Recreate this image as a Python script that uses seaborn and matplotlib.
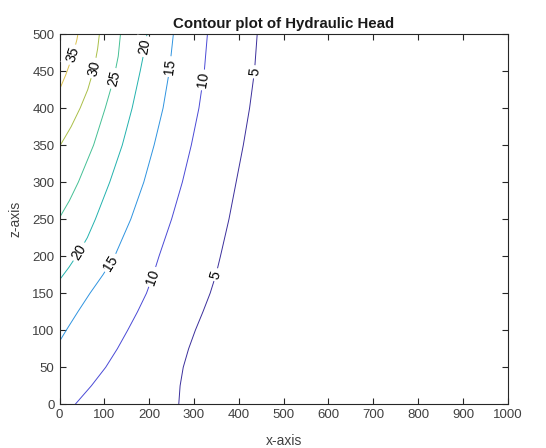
import numpy as np
import pandas as pd
import seaborn as sns
import matplotlib
matplotlib.use("Agg")
import matplotlib.pyplot as plt

# Contour levels of hydraulic head and their line colours (parula-like)
levels = [5, 10, 15, 20, 25, 30, 35]
level_colors = ["#3b2f9c", "#4a4ad6", "#2f94e0", "#23b2ae", "#45c095", "#aabf48", "#dcc24f"]

# Traced iso-head lines: x positions at given depths z
z_5 = [0, 25, 50, 75, 100, 125, 150, 175, 200, 250, 300, 350, 400, 450, 500]
x_5 = [266, 269, 276, 288, 303, 320, 336, 349, 359, 378, 394, 410, 424, 435, 441]

z_10 = [0, 25, 50, 75, 100, 125, 150, 175, 200, 250, 300, 350, 400, 450, 500]
x_10 = [35, 71, 103, 129, 152, 174, 194, 209, 222, 250, 274, 294, 311, 323, 330]

z_15 = [85, 100, 125, 150, 175, 200, 250, 300, 350, 400, 450, 500]
x_15 = [0, 15, 41, 68, 97, 123, 159, 188, 211, 231, 245, 254]

z_20 = [168, 185, 206, 225, 250, 300, 350, 400, 450, 483, 500]
x_20 = [0, 21, 44, 62, 80, 112, 140, 162, 180, 191, 195]

z_25 = [252, 275, 300, 350, 400, 440, 470, 500]
x_25 = [0, 22, 42, 76, 102, 121, 131, 136]

z_30 = [348, 375, 400, 425, 454, 480, 500]
x_30 = [0, 26, 46, 63, 77, 85, 89]

z_35 = [425, 445, 472, 493, 500]
x_35 = [0, 14, 30, 39, 41]

# Depth at which each level's inline label sits
label_z = {5: [175, 449], 10: [172, 438], 15: [191, 456], 20: [206, 483],
           25: [440], 30: [454], 35: [472]}

x_ticks = list(range(0, 1001, 100))
z_ticks = list(range(0, 501, 50))

lines = {5: (x_5, z_5), 10: (x_10, z_10), 15: (x_15, z_15), 20: (x_20, z_20),
         25: (x_25, z_25), 30: (x_30, z_30), 35: (x_35, z_35)}

frames = []
for lev in levels:
    xs, zs = lines[lev]
    frames.append(pd.DataFrame({"x": xs, "z": zs, "level": lev}))
df = pd.concat(frames, ignore_index=True)

sns.set_theme(style="white")
plt.rcParams["font.family"] = ["Liberation Sans", "DejaVu Sans"]

fig = plt.figure(figsize=(5.46, 4.48), dpi=100)
ax = fig.add_axes([0.109, 0.0975, 0.821, 0.8265])

sns.lineplot(data=df, x="x", y="z", hue="level", palette=dict(zip(levels, level_colors)),
             sort=False, estimator=None, legend=False, linewidth=0.7, ax=ax)

ax.set_xlim(0, 1000)
ax.set_ylim(0, 500)
ax.set_xticks(x_ticks)
ax.set_yticks(z_ticks)

fig.canvas.draw()
# inline labels, rotated along each line
for lev in levels:
    xs, zs = lines[lev]
    for zl in label_z[lev]:
        xl = np.interp(zl, zs, xs)
        p0 = ax.transData.transform((np.interp(zl - 10, zs, xs), zl - 10))
        p1 = ax.transData.transform((np.interp(zl + 10, zs, xs), zl + 10))
        ang = np.degrees(np.arctan2(p1[1] - p0[1], p1[0] - p0[0]))
        if ang > 90:
            ang -= 180
        elif ang < -90:
            ang += 180
        ax.text(xl, zl, str(lev), rotation=ang, rotation_mode="anchor",
                ha="center", va="center", fontsize=10, color="black",
                bbox=dict(boxstyle="square,pad=0.2", fc="white", ec="none"), zorder=5)

for s in ax.spines.values():
    s.set_color("#262626")
    s.set_linewidth(0.8)
ax.tick_params(axis="both", which="both", direction="in", length=4, width=0.8,
               colors="#262626", labelcolor="#404040", labelsize=9.5,
               top=True, right=True, bottom=True, left=True)
ax.set_xlabel("x-axis", fontsize=10, color="#404040", labelpad=9)
ax.set_ylabel("z-axis", fontsize=10, color="#404040", labelpad=7)
ax.set_title("Contour plot of Hydraulic Head", fontsize=10.8, fontweight="bold",
             color="#1a1a1a", pad=4)

fig.savefig("out.png", dpi=100)
